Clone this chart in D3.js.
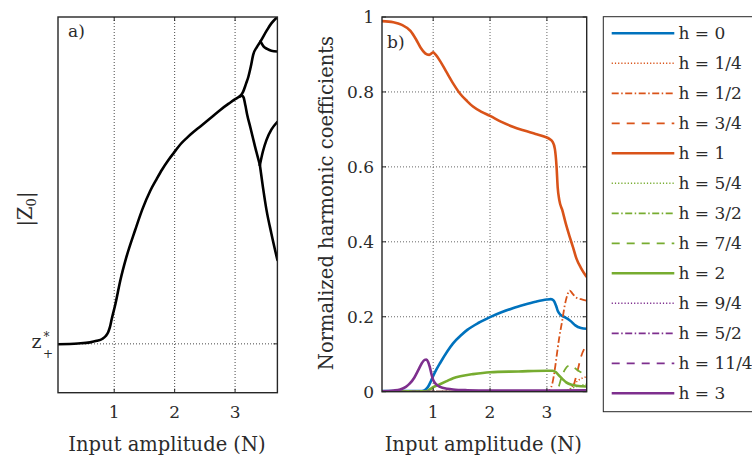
<!DOCTYPE html>
<html>
<head>
<meta charset="utf-8">
<script src="https://cdn.jsdelivr.net/npm/d3@7"></script>
<style>
  html, body { margin: 0; padding: 0; background: #fff; }
  svg text { font-family: "DejaVu Serif", "Liberation Serif", serif; fill: #2b2b2b; }
</style>
</head>
<body>
<svg id="fig" width="752" height="459"></svg>
<script>
// ---------- panel a: |Z0| branches vs input amplitude ----------
const zStar = 0.13;               // level of z+* on the normalised |Z0| axis
const xTicks = [1, 2, 3];
const branchMain = [[0.07,0.129],[0.4,0.131],[0.6,0.134],[0.71,0.138],[0.8,0.143],[0.86,0.151],[0.9,0.161],[0.93,0.175],[0.96,0.197],[1.02,0.236],[1.1,0.298],[1.2,0.36],[1.347,0.433],[1.47,0.49],[1.595,0.537],[1.7,0.568],[1.793,0.594],[1.9,0.62],[2.008,0.643],[2.1,0.662],[2.207,0.679],[2.32,0.695],[2.42,0.708],[2.6,0.732],[2.75,0.752],[2.9,0.77],[3.05,0.786],[3.11,0.791]];
const branchUp = [[3.08,0.789],[3.13,0.8],[3.18,0.822],[3.22,0.841],[3.26,0.868],[3.3,0.9],[3.36,0.92],[3.42,0.935],[3.52,0.963],[3.6,0.983],[3.7,1.0]];
const branchSide = [[3.42,0.935],[3.47,0.922],[3.53,0.915],[3.6,0.91],[3.7,0.908]];
const branchDown = [[3.11,0.791],[3.14,0.786],[3.17,0.765],[3.2,0.74],[3.25,0.708],[3.33,0.655],[3.41,0.606]];
const branchLow = [[3.41,0.606],[3.46,0.548],[3.52,0.486],[3.6,0.424],[3.7,0.353]];
const branchCusp = [[3.41,0.606],[3.46,0.642],[3.52,0.673],[3.6,0.7],[3.7,0.721]];

// ---------- panel b: normalised harmonic coefficients ----------
const yTicksB = [0, 0.2, 0.4, 0.6, 0.8, 1];
const hLabels = ["h = 0","h = 1/4","h = 1/2","h = 3/4","h = 1","h = 5/4","h = 3/2","h = 7/4","h = 2","h = 9/4","h = 5/2","h = 11/4","h = 3"];
const h0 = [[0.1,0.002],[0.8,0.002],[0.86,0.005],[0.91,0.013],[0.96,0.028],[1.0,0.042],[1.06,0.06],[1.12,0.076],[1.25,0.108],[1.35,0.129],[1.5,0.152],[1.6,0.165],[1.8,0.184],[2.0,0.199],[2.2,0.212],[2.4,0.223],[2.6,0.232],[2.8,0.24],[3.0,0.246],[3.07,0.247],[3.12,0.243],[3.16,0.23],[3.19,0.216],[3.24,0.205],[3.3,0.2],[3.36,0.195],[3.43,0.187],[3.5,0.177],[3.6,0.17],[3.7,0.168]];
const h1_4 = [[0.1,0],[3.35,0],[3.45,0.015],[3.55,0.03],[3.7,0.04]];
const h1_2 = [[0.1,0],[3.0,0],[3.05,0.005],[3.1,0.025],[3.14,0.06],[3.18,0.105],[3.22,0.147],[3.27,0.19],[3.31,0.227],[3.36,0.258],[3.4,0.27],[3.45,0.262],[3.5,0.253],[3.6,0.247],[3.7,0.243]];
const h3_4 = [[0.1,0],[3.4,0],[3.46,0.013],[3.53,0.05],[3.6,0.093],[3.7,0.125]];
const h1 = [[0.1,0.989],[0.3,0.986],[0.45,0.979],[0.6,0.963],[0.7,0.94],[0.78,0.918],[0.86,0.903],[0.93,0.899],[0.98,0.904],[1.0,0.906],[1.04,0.9],[1.12,0.883],[1.23,0.854],[1.35,0.823],[1.47,0.796],[1.6,0.775],[1.7,0.761],[1.85,0.747],[2.0,0.736],[2.2,0.72],[2.4,0.707],[2.6,0.697],[2.8,0.688],[2.95,0.681],[3.05,0.674],[3.1,0.667],[3.14,0.648],[3.17,0.6],[3.19,0.545],[3.22,0.51],[3.27,0.485],[3.33,0.45],[3.4,0.414],[3.46,0.385],[3.52,0.355],[3.6,0.33],[3.7,0.306]];
const h5_4 = [[0.1,0],[3.3,0],[3.45,0.01],[3.55,0.015],[3.7,0.02]];
const h3_2 = [[0.1,0],[3.4,0],[3.7,0.005]];
const h7_4 = [[0.1,0],[3.15,0],[3.2,0.01],[3.26,0.04],[3.33,0.062],[3.4,0.07],[3.48,0.064],[3.56,0.055],[3.7,0.046]];
const h2 = [[0.1,0.001],[0.88,0.001],[0.94,0.006],[1.0,0.012],[1.12,0.02],[1.25,0.029],[1.35,0.036],[1.5,0.042],[1.7,0.047],[2.0,0.052],[2.5,0.054],[3.0,0.056],[3.1,0.056],[3.16,0.052],[3.22,0.042],[3.28,0.033],[3.34,0.025],[3.42,0.019],[3.52,0.016],[3.7,0.014]];
const h9_4 = [[0.1,0],[3.7,0]];
const h5_2 = [[0.1,0],[3.7,0]];
const h11_4 = [[0.1,0],[3.7,0]];
const h3 = [[0.1,0.001],[0.3,0.003],[0.42,0.006],[0.52,0.013],[0.59,0.022],[0.67,0.038],[0.74,0.058],[0.8,0.076],[0.85,0.085],[0.88,0.086],[0.91,0.08],[0.94,0.066],[0.97,0.047],[1.0,0.031],[1.06,0.019],[1.12,0.013],[1.25,0.008],[1.35,0.006],[1.6,0.004],[2.0,0.003],[3.0,0.003],[3.7,0.004]];

const BLUE = "#0072BD", ORANGE = "#D95319", GREEN = "#77AC30", PURPLE = "#7E2F8E";
const DOT = "1.2,2", DASHDOT = "7,2.5,1.5,2.5", DASH = "8,7";
const series = [
  { data: h0,   color: BLUE,   dash: null,    w: 2.6 },
  { data: h1_4, color: ORANGE, dash: DOT,     w: 1.6 },
  { data: h1_2, color: ORANGE, dash: DASHDOT, w: 1.8 },
  { data: h3_4, color: ORANGE, dash: DASH,    w: 1.8 },
  { data: h1,   color: ORANGE, dash: null,    w: 2.6 },
  { data: h5_4, color: GREEN,  dash: DOT,     w: 1.6 },
  { data: h3_2, color: GREEN,  dash: DASHDOT, w: 1.8 },
  { data: h7_4, color: GREEN,  dash: DASH,    w: 1.8 },
  { data: h2,   color: GREEN,  dash: null,    w: 2.6 },
  { data: h9_4, color: PURPLE, dash: DOT,     w: 1.6 },
  { data: h5_2, color: PURPLE, dash: DASHDOT, w: 1.8 },
  { data: h11_4,color: PURPLE, dash: DASH,    w: 1.8 },
  { data: h3,   color: PURPLE, dash: null,    w: 2.6 }
];

const svg = d3.select("#fig");
const FRAME = "#262626";
const fs = 17;      // tick and legend text
const fsLab = 19.5; // axis titles

// ---------- panel a ----------
const ax = { l: 58, r: 277.4, t: 17, b: 392.7 };
const xa = d3.scaleLinear().domain([0.07, 3.7]).range([ax.l, ax.r]);
const ya = d3.scaleLinear().domain([0, 1]).range([ax.b, ax.t]);
const ga = svg.append("g");
ga.append("clipPath").attr("id", "clipA").append("rect")
  .attr("x", ax.l).attr("y", ax.t).attr("width", ax.r - ax.l).attr("height", ax.b - ax.t);

// grid
ga.selectAll("line.gx").data(xTicks).join("line")
  .attr("x1", d => xa(d)).attr("x2", d => xa(d)).attr("y1", ax.t).attr("y2", ax.b)
  .attr("stroke", "#333").attr("stroke-width", 0.9).attr("stroke-dasharray", "1,2");
ga.append("line").attr("x1", ax.l).attr("x2", ax.r).attr("y1", ya(zStar)).attr("y2", ya(zStar))
  .attr("stroke", "#333").attr("stroke-width", 0.9).attr("stroke-dasharray", "1,2");

const lineA = d3.line().x(d => xa(d[0])).y(d => ya(d[1])).curve(d3.curveMonotoneX);
const gaCurves = ga.append("g").attr("clip-path", "url(#clipA)");
[branchMain, branchUp, branchSide, branchDown, branchLow, branchCusp].forEach(b => {
  gaCurves.append("path").attr("d", lineA(b)).attr("fill", "none")
    .attr("stroke", "#000").attr("stroke-width", 2.6).attr("stroke-linejoin", "round").attr("stroke-linecap", "round");
});

// axes (inward ticks, boxed)
ga.append("rect").attr("x", ax.l).attr("y", ax.t).attr("width", ax.r - ax.l).attr("height", ax.b - ax.t)
  .attr("fill", "none").attr("stroke", FRAME).attr("stroke-width", 1.4);
ga.selectAll("line.tx").data(xTicks).join("line")
  .attr("x1", d => xa(d)).attr("x2", d => xa(d)).attr("y1", ax.b).attr("y2", ax.b - 4)
  .attr("stroke", FRAME).attr("stroke-width", 1);
ga.selectAll("line.tx2").data(xTicks).join("line")
  .attr("x1", d => xa(d)).attr("x2", d => xa(d)).attr("y1", ax.t).attr("y2", ax.t + 4)
  .attr("stroke", FRAME).attr("stroke-width", 1);
ga.append("line").attr("x1", ax.r).attr("x2", ax.r - 4).attr("y1", ya(zStar)).attr("y2", ya(zStar))
  .attr("stroke", FRAME).attr("stroke-width", 1);
ga.selectAll("text.tl").data(xTicks).join("text")
  .attr("x", d => xa(d)).attr("y", 418).attr("text-anchor", "middle").attr("font-size", fs).text(d => d);
ga.append("text").attr("x", 167).attr("y", 450.5).attr("text-anchor", "middle")
  .attr("font-size", fsLab).text("Input amplitude (N)");
ga.append("text").attr("x", 31.5).attr("y", ya(zStar) + 4).attr("font-size", 19).text("z");
ga.append("text").attr("x", 43.5).attr("y", ya(zStar) - 3).attr("font-size", 12).text("*");
ga.append("text").attr("x", 43).attr("y", ya(zStar) + 14).attr("font-size", 12).text("+");
const zt = ga.append("text").attr("transform", "translate(32,209) rotate(-90)").attr("text-anchor", "middle").attr("font-size", fsLab);
zt.append("tspan").text("|Z");
zt.append("tspan").attr("font-size", 13).attr("dy", 4).text("0");
zt.append("tspan").attr("dy", -4).text("|");
ga.append("text").attr("x", 68).attr("y", 37).attr("font-size", fs).text("a)");

// ---------- panel b ----------
const bx = { l: 382, r: 586.7, t: 17, b: 391.7 };
const xb = d3.scaleLinear().domain([0.1, 3.7]).range([bx.l, bx.r]);
const yb = d3.scaleLinear().domain([0, 1]).range([bx.b, bx.t]);
const gb = svg.append("g");
gb.append("clipPath").attr("id", "clipB").append("rect")
  .attr("x", bx.l).attr("y", bx.t - 2).attr("width", bx.r - bx.l).attr("height", bx.b - bx.t + 2);

gb.selectAll("line.gx").data(xTicks).join("line")
  .attr("x1", d => xb(d)).attr("x2", d => xb(d)).attr("y1", bx.t).attr("y2", bx.b)
  .attr("stroke", "#555").attr("stroke-width", 0.9).attr("stroke-dasharray", "1,2");
gb.selectAll("line.gy").data(yTicksB.slice(1, -1)).join("line")
  .attr("x1", bx.l).attr("x2", bx.r).attr("y1", d => yb(d)).attr("y2", d => yb(d))
  .attr("stroke", "#555").attr("stroke-width", 0.9).attr("stroke-dasharray", "1,2");

const lineB = d3.line().x(d => xb(d[0])).y(d => yb(d[1])).curve(d3.curveMonotoneX);
const gbCurves = gb.append("g").attr("clip-path", "url(#clipB)");
series.forEach(s => {
  gbCurves.append("path").attr("d", lineB(s.data)).attr("fill", "none")
    .attr("stroke", s.color).attr("stroke-width", s.w)
    .attr("stroke-dasharray", s.dash).attr("stroke-linejoin", "round");
});

gb.append("rect").attr("x", bx.l).attr("y", bx.t).attr("width", bx.r - bx.l).attr("height", bx.b - bx.t)
  .attr("fill", "none").attr("stroke", FRAME).attr("stroke-width", 1.4);
xTicks.forEach(d => {
  gb.append("line").attr("x1", xb(d)).attr("x2", xb(d)).attr("y1", bx.b).attr("y2", bx.b - 4).attr("stroke", FRAME);
  gb.append("line").attr("x1", xb(d)).attr("x2", xb(d)).attr("y1", bx.t).attr("y2", bx.t + 4).attr("stroke", FRAME);
});
yTicksB.forEach(d => {
  gb.append("line").attr("x1", bx.l).attr("x2", bx.l + 4).attr("y1", yb(d)).attr("y2", yb(d)).attr("stroke", FRAME);
  gb.append("line").attr("x1", bx.r).attr("x2", bx.r - 4).attr("y1", yb(d)).attr("y2", yb(d)).attr("stroke", FRAME);
});
gb.selectAll("text.tx").data(xTicks).join("text")
  .attr("x", d => xb(d)).attr("y", 418).attr("text-anchor", "middle").attr("font-size", fs).text(d => d);
gb.selectAll("text.ty").data(yTicksB).join("text")
  .attr("x", 374).attr("y", d => yb(d) + 6).attr("text-anchor", "end").attr("font-size", fs)
  .text(d => d3.format("~g")(d));
gb.append("text").attr("x", 483.3).attr("y", 450.5).attr("text-anchor", "middle")
  .attr("font-size", fsLab).text("Input amplitude (N)");
gb.append("text").attr("transform", "translate(333,203) rotate(-90)").attr("text-anchor", "middle")
  .attr("font-size", fsLab).text("Normalized harmonic coefficients");
gb.append("text").attr("x", 387).attr("y", 48).attr("font-size", fs).text("b)");

// ---------- legend ----------
const lg = svg.append("g");
lg.append("rect").attr("x", 603.3).attr("y", 16.7).attr("width", 160).attr("height", 395)
  .attr("fill", "#fff").attr("stroke", FRAME).attr("stroke-width", 1);
const rowY = d3.scalePoint().domain(hLabels).range([33.3, 393.3]);
series.forEach((s, i) => {
  const y = rowY(hLabels[i]);
  lg.append("line").attr("x1", 611.7).attr("x2", 674.3).attr("y1", y).attr("y2", y)
    .attr("stroke", s.color).attr("stroke-width", s.w).attr("stroke-dasharray", s.dash);
  lg.append("text").attr("x", 678.5).attr("y", y + 6).attr("font-size", fs).text(hLabels[i]);
});
</script>
</body>
</html>
